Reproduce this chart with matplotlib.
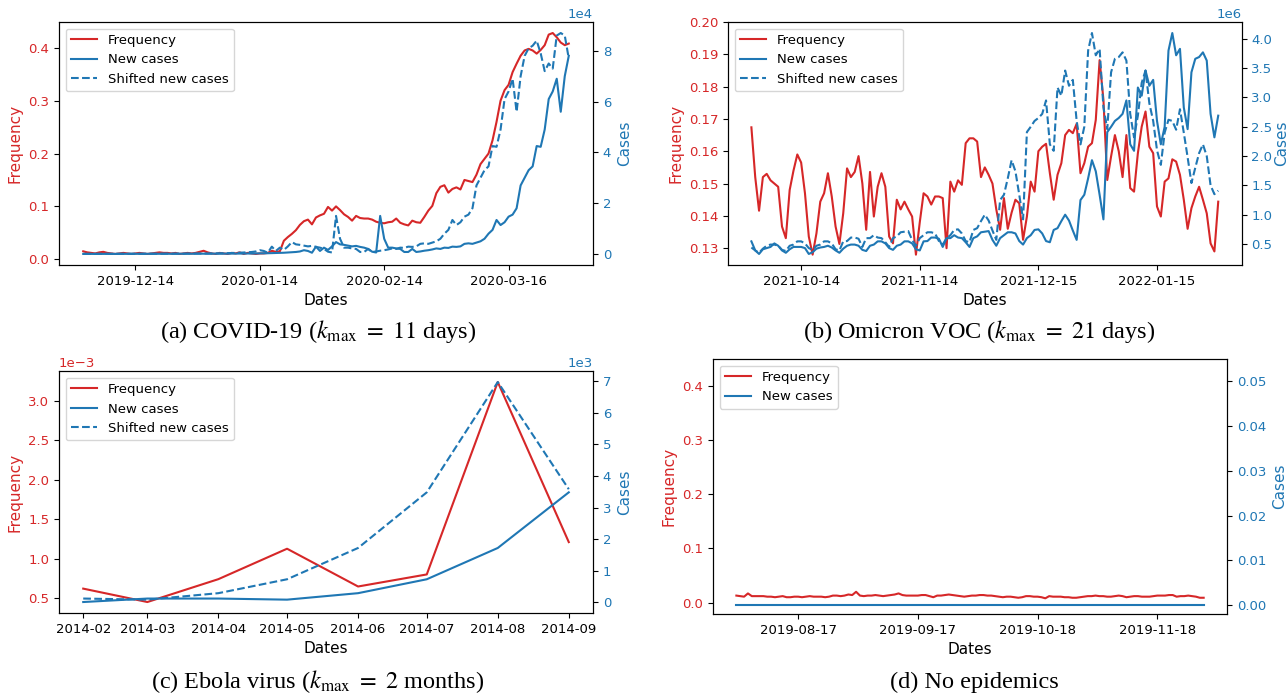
import numpy as np
import pandas as pd
import matplotlib
matplotlib.use("Agg")
import matplotlib.pyplot as plt
import matplotlib.dates as mdates

RED = "#d62728"
BLUE = "#1f77b4"

plt.rcParams["mathtext.fontset"] = "stix"
plt.rcParams["font.size"] = 9.5

# (a) COVID-19, daily from 2019-12-01
covid_start = "2019-12-01"
covid_freq = [
    0.015, 0.013, 0.012, 0.011, 0.013, 0.014, 0.012, 0.011, 0.010, 0.011,
    0.012, 0.011, 0.010, 0.011, 0.012, 0.011, 0.010, 0.011, 0.012, 0.013,
    0.012, 0.012, 0.011, 0.012, 0.010, 0.011, 0.012, 0.011, 0.012, 0.014,
    0.016, 0.013, 0.011, 0.010, 0.012, 0.011, 0.010, 0.012, 0.011, 0.013,
    0.010, 0.012, 0.011, 0.010, 0.011, 0.011,
    0.012, 0.016, 0.014, 0.015, 0.035, 0.042, 0.048, 0.055, 0.065, 0.072,
    0.075, 0.066, 0.079, 0.083, 0.086, 0.099, 0.092, 0.100, 0.093, 0.085,
    0.080, 0.073, 0.082, 0.078, 0.077, 0.077, 0.075, 0.071, 0.069, 0.068,
    0.070, 0.071, 0.077, 0.069, 0.066, 0.064, 0.073, 0.070, 0.069, 0.080,
    0.092, 0.101, 0.125, 0.137, 0.140, 0.126, 0.133, 0.136, 0.132, 0.150,
    0.148, 0.146, 0.160, 0.180, 0.190, 0.200, 0.225, 0.260, 0.300, 0.320,
    0.330, 0.354, 0.370, 0.385, 0.395, 0.398, 0.395, 0.389, 0.396, 0.405,
    0.425, 0.428, 0.420, 0.410, 0.405, 0.408,
]
# new cases in units of 1e4, runs 11 days past the frequency series
covid_new = np.array([
    0.003, 0.002, 0.004, 0.003, 0.005, 0.004, 0.006, 0.005, 0.004, 0.006,
    0.005, 0.007, 0.006, 0.008, 0.007, 0.006, 0.008, 0.009, 0.007, 0.008,
    0.009, 0.010, 0.008, 0.010, 0.011, 0.009, 0.012, 0.010, 0.011, 0.013,
    0.012, 0.011, 0.013, 0.014, 0.012, 0.015, 0.014, 0.016, 0.015, 0.017,
    0.018, 0.020, 0.019, 0.022, 0.025,
    0.028, 0.030, 0.035, 0.040, 0.045, 0.050, 0.060, 0.070, 0.080, 0.100,
    0.150, 0.120,
    0.05, 0.29, 0.12, 0.25, 0.16, 0.30, 0.47, 0.38, 0.36, 0.33,
    0.30, 0.32, 0.28, 0.25, 0.20, 0.09, 0.06, 1.50, 0.60, 0.25,
    0.25, 0.22, 0.20, 0.08, 0.08, 0.20, 0.08, 0.10, 0.13, 0.15,
    0.18, 0.22, 0.20, 0.25, 0.24, 0.29, 0.28, 0.30, 0.40, 0.42,
    0.40, 0.45, 0.50, 0.60, 0.80, 0.95, 1.34, 1.14, 1.25, 1.47,
    1.55, 1.80, 2.70, 3.00, 3.30, 3.45, 4.25, 4.22, 4.90, 6.10,
    6.40, 6.90, 5.60, 7.00, 7.80,
    8.10, 8.20, 8.40, 7.90, 7.20, 7.50, 7.30, 8.60, 8.70, 8.60, 7.70,
]) * 1e4
covid_shift = 11
covid_ticks = ["2019-12-14", "2020-01-14", "2020-02-14", "2020-03-16"]

# (b) Omicron VOC, daily from 2021-10-01
omicron_start = "2021-10-01"
omicron_freq = [
    0.1674, 0.1520, 0.1416, 0.1520, 0.1530, 0.1510, 0.1500, 0.1490, 0.1367, 0.1331,
    0.1480, 0.1540, 0.1590, 0.1565, 0.1470, 0.1336, 0.1280, 0.1346, 0.1444, 0.1470,
    0.1532, 0.1460, 0.1367, 0.1313, 0.1408, 0.1547, 0.1520, 0.1536, 0.1585, 0.1500,
    0.1357, 0.1536, 0.1398, 0.1490, 0.1532, 0.1490, 0.1336, 0.1315, 0.1450, 0.1420,
    0.1444, 0.1420, 0.1398, 0.1280, 0.1380, 0.1470, 0.1460, 0.1435, 0.1460, 0.1460,
    0.1455, 0.1300, 0.1506, 0.1475, 0.1510, 0.1496, 0.1625, 0.1640, 0.1640, 0.1630,
    0.1520, 0.1550, 0.1527, 0.1500, 0.1420, 0.1357, 0.1455, 0.1360, 0.1410, 0.1450,
    0.1439, 0.1326, 0.1398, 0.1506, 0.1475, 0.1600, 0.1614, 0.1623, 0.1532, 0.1450,
    0.1527, 0.1563, 0.1650, 0.1666, 0.1656, 0.1685, 0.1532, 0.1563, 0.1614, 0.1625,
    0.1697, 0.1882, 0.1759, 0.1511, 0.1584, 0.1650, 0.1600, 0.1520, 0.1650, 0.1486,
    0.1475, 0.1594, 0.1676, 0.1723, 0.1614, 0.1594, 0.1429, 0.1398, 0.1506, 0.1516,
    0.1575, 0.1568, 0.1527, 0.1450, 0.1360, 0.1424, 0.1460, 0.1490, 0.1450, 0.1408,
    0.1315, 0.1290, 0.1444,
]
# new cases in units of 1e6, runs 21 days past the frequency series
omicron_new = np.array([
    0.545, 0.39, 0.33, 0.41, 0.43, 0.45, 0.51, 0.47, 0.39, 0.35,
    0.41, 0.45, 0.45, 0.45, 0.43, 0.33, 0.36, 0.42, 0.44, 0.45,
    0.47, 0.44, 0.39, 0.35, 0.42, 0.47, 0.49, 0.49, 0.47, 0.40,
    0.38, 0.47, 0.49, 0.545, 0.545, 0.51, 0.43, 0.40, 0.47, 0.49,
    0.545, 0.545, 0.51, 0.41, 0.39, 0.545, 0.55, 0.61, 0.61, 0.59,
    0.45, 0.60, 0.60, 0.65, 0.61, 0.60, 0.53, 0.45, 0.60, 0.63,
    0.70, 0.71, 0.72, 0.57, 0.47, 0.60, 0.65, 0.70, 0.70, 0.68,
    0.55, 0.49, 0.60, 0.65, 0.74, 0.75, 0.68, 0.55, 0.53, 0.74,
    0.77, 0.89, 1.00, 0.90, 0.73, 0.57, 1.25, 1.34, 1.62, 1.93,
    1.74, 1.34, 0.92, 2.41, 2.50, 2.60, 2.65, 2.72, 2.95, 2.20,
    2.09, 3.17, 3.03, 3.46, 3.20, 3.30, 2.60, 2.20, 2.50, 3.80,
    4.10, 3.72, 3.83, 2.83, 2.46, 3.43, 3.66, 3.69, 3.77, 3.63,
    2.72, 2.32, 2.69,
    3.25, 3.46, 2.90, 2.60, 2.10, 1.85, 2.40, 2.62, 2.60, 2.45,
    2.80, 2.40, 1.98, 1.54, 1.80, 2.05, 2.20, 2.00, 1.50, 1.35, 1.41,
]) * 1e6
omicron_shift = 21
omicron_ticks = ["2021-10-14", "2021-11-14", "2021-12-15", "2022-01-15"]

# (c) Ebola virus, monthly from 2014-02
ebola_start = "2014-02-01"
ebola_freq = np.array([0.62, 0.45, 0.74, 1.126, 0.647, 0.80, 3.24, 1.21]) * 1e-3
ebola_new = np.array([0.01, 0.12, 0.12, 0.085, 0.29, 0.73, 1.72, 3.48, 6.97, 3.58]) * 1e3
ebola_shift = 2

# (d) No epidemics, daily from 2019-08-01
none_start = "2019-08-01"
none_freq = [
    0.013, 0.012, 0.011, 0.017, 0.012, 0.012, 0.012, 0.012, 0.011, 0.011,
    0.010, 0.011, 0.012, 0.010, 0.010, 0.011, 0.011, 0.010, 0.011, 0.012,
    0.011, 0.011, 0.011, 0.010, 0.011, 0.013, 0.013, 0.012, 0.013, 0.015,
    0.014, 0.020, 0.013, 0.012, 0.013, 0.013, 0.014, 0.013, 0.012, 0.013,
    0.014, 0.015, 0.017, 0.014, 0.013, 0.013, 0.013, 0.013, 0.014, 0.014,
    0.012, 0.010, 0.013, 0.013, 0.014, 0.015, 0.014, 0.013, 0.012, 0.011,
    0.012, 0.013, 0.013, 0.014, 0.014, 0.013, 0.013, 0.012, 0.011, 0.010,
    0.011, 0.011, 0.010, 0.009, 0.010, 0.012, 0.012, 0.011, 0.011, 0.010,
    0.008, 0.012, 0.011, 0.011, 0.011, 0.010, 0.010, 0.009, 0.009, 0.010,
    0.011, 0.012, 0.012, 0.013, 0.012, 0.012, 0.011, 0.011, 0.012, 0.013,
    0.012, 0.010, 0.011, 0.012, 0.012, 0.011, 0.011, 0.011, 0.012, 0.013,
    0.013, 0.013, 0.014, 0.014, 0.011, 0.012, 0.012, 0.013, 0.012, 0.011,
    0.009, 0.009,
]
none_new = np.zeros(len(none_freq))
none_ticks = ["2019-08-17", "2019-09-17", "2019-10-18", "2019-11-18"]

captions = [
    r"(a) COVID-19 ($k_{\mathrm{max}}\ =\ 11$ days)",
    r"(b) Omicron VOC ($k_{\mathrm{max}}\ =\ 21$ days)",
    r"(c) Ebola virus ($k_{\mathrm{max}}\ =\ 2$ months)",
    "(d) No epidemics",
]


def draw_panel(ax, dates, freq, new, shift, ticks, fmt, pad=4):
    ax2 = ax.twinx()
    n = len(freq)
    l1, = ax.plot(dates, freq, color=RED, lw=1.5, label="Frequency")
    l2, = ax2.plot(dates, new[:n], color=BLUE, lw=1.5, label="New cases")
    handles = [l1, l2]
    if shift:
        l3, = ax2.plot(dates, new[shift:shift + n], color=BLUE, lw=1.5, ls="--",
                       label="Shifted new cases")
        handles.append(l3)
    ax2.legend(handles=handles, loc="upper left", fontsize=9.5)
    ax.set_xticks(ticks)
    ax.xaxis.set_major_formatter(mdates.DateFormatter(fmt))
    ax.set_xlabel("Dates", fontsize=11)
    ax.set_ylabel("Frequency", color=RED, fontsize=11)
    ax2.set_ylabel("Cases", color=BLUE, fontsize=11, labelpad=pad)
    ax.tick_params(axis="y", labelcolor=RED)
    ax2.tick_params(axis="y", labelcolor=BLUE)
    ax2.yaxis.get_offset_text().set_color(BLUE)
    ax.yaxis.get_offset_text().set_color(RED)
    return ax2


fig = plt.figure(figsize=(12.87, 6.93), dpi=100)
ax_a = fig.add_axes([0.0458, 0.6176, 0.415, 0.3507])
ax_b = fig.add_axes([0.5657, 0.6176, 0.3990, 0.3507])
ax_c = fig.add_axes([0.0458, 0.1154, 0.415, 0.3492])
ax_d = fig.add_axes([0.5540, 0.1140, 0.3994, 0.3680])

covid_dates = pd.date_range(covid_start, periods=len(covid_freq), freq="D")
a2 = draw_panel(ax_a, covid_dates, covid_freq, covid_new, covid_shift,
                pd.to_datetime(covid_ticks), "%Y-%m-%d")
a2.ticklabel_format(axis="y", style="sci", scilimits=(0, 0))

omicron_dates = pd.date_range(omicron_start, periods=len(omicron_freq), freq="D")
b2 = draw_panel(ax_b, omicron_dates, omicron_freq, omicron_new, omicron_shift,
                pd.to_datetime(omicron_ticks), "%Y-%m-%d", pad=1)
b2.ticklabel_format(axis="y", style="sci", scilimits=(0, 0))
ax_b.set_ylim(0.1248, 0.2)

ebola_dates = pd.date_range(ebola_start, periods=len(ebola_freq), freq="MS")
c2 = draw_panel(ax_c, ebola_dates, ebola_freq, ebola_new, ebola_shift,
                ebola_dates, "%Y-%m")
c2.ticklabel_format(axis="y", style="sci", scilimits=(0, 0))
ax_c.ticklabel_format(axis="y", style="sci", scilimits=(0, 0))

none_dates = pd.date_range(none_start, periods=len(none_freq), freq="D")
d2 = draw_panel(ax_d, none_dates, none_freq, none_new, 0,
                pd.to_datetime(none_ticks), "%Y-%m-%d")
ax_d.set_ylim(-0.021, 0.45)
d2.set_ylim(-0.002, 0.055)

cap_pos = [(0.247, 0.522), (0.761, 0.522), (0.247, 0.016), (0.757, 0.016)]
for (x, y), text in zip(cap_pos, captions):
    fig.text(x, y, text, ha="center", va="center", fontsize=17.5,
             family="Liberation Serif")

fig.savefig("out.png", dpi=100)
